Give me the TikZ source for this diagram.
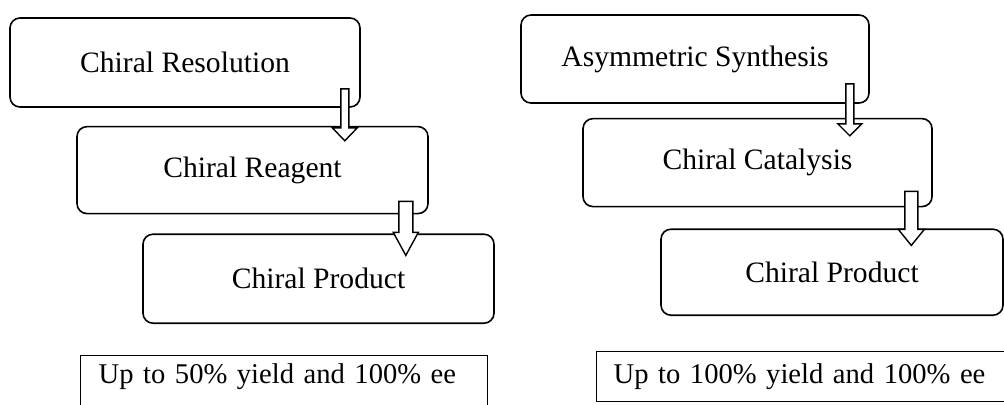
\documentclass[tikz,border=0pt]{standalone}
\usepackage{fontspec}
\setmainfont{Liberation Serif}
\usetikzlibrary{positioning,calc}

\begin{document}
\begin{tikzpicture}[x=0.5pt, y=-0.5pt,
      stage/.style={draw, rounded corners=5pt, line width=0.8pt, inner sep=0pt, font=\fontsize{14.8}{18}\selectfont},
      note/.style={draw, line width=0.7pt, anchor=north west, inner ysep=0pt, align=left, font=\fontsize{14.3}{18}\selectfont},
      blockarr/.style n args={3}{draw, fill=white, line width=0.7pt,
        to path={let \p1=(\tikztostart), \p2=(\tikztotarget) in
          (\x1-#1,\y1) -- (\x1+#1,\y1) -- (\x1+#1,\y2+#3) -- (\x1+#2,\y2+#3) -- (\x1,\y2)
          -- (\x1-#2,\y2+#3) -- (\x1-#1,\y2+#3) -- cycle}}
    ]
    \useasboundingbox (0,0) rectangle (1004,404);

    % resolution route
    \node[stage, minimum width=175pt, minimum height=44.5pt] (res) at (185,62.5) {Chiral Resolution};
    \node[stage, minimum width=175.5pt, minimum height=43.5pt, below=9pt of res.south west, anchor=north west, xshift=33.5pt] (reag) {Chiral Reagent};
    \node[stage, minimum width=175.5pt, minimum height=44.5pt, below=9.5pt of reag.south west, anchor=north west, xshift=33pt] (prodA) {Chiral Product};
    \node[note, inner xsep=9pt, text width=185.5pt, text height=14pt, text depth=20pt] (yieldA) at (80,355) {Up to 50\% yield and 100\% ee};

    % synthesis route
    \node[stage, minimum width=174pt, minimum height=44pt] (syn) at (695,59) {Asymmetric Synthesis};
    \node[stage, minimum width=174.5pt, minimum height=44pt, below=7pt of syn.south west, anchor=north west, xshift=31pt] (cat) {Chiral Catalysis};
    \node[stage, minimum width=171pt, minimum height=43pt, below=10.5pt of cat.south west, anchor=north west, xshift=39pt] (prodB) {Chiral Product};
    \node[note, inner xsep=8.5pt, text width=200pt, text height=16pt, text depth=9pt] (yieldB) at (596,351) {Up to 100\% yield and 100\% ee};

    \draw[blockarr={2pt}{6.25pt}{6.5pt}] ($(res.south east)+(-16,-19)$) to ($(reag.north east)+(-84,15)$);
    \draw[blockarr={3.5pt}{6.25pt}{11.5pt}] ($(reag.south east)+(-23,-13)$) to ($(prodA.north east)+(-89,22)$);
    \draw[blockarr={2pt}{6pt}{6pt}] ($(syn.south east)+(-20,-20)$) to ($(cat.north east)+(-83,18)$);
    \draw[blockarr={3.25pt}{6.5pt}{8pt}] ($(cat.south east)+(-21.5,-16)$) to ($(prodB.north east)+(-93,17)$);
  \end{tikzpicture}
\end{document}
